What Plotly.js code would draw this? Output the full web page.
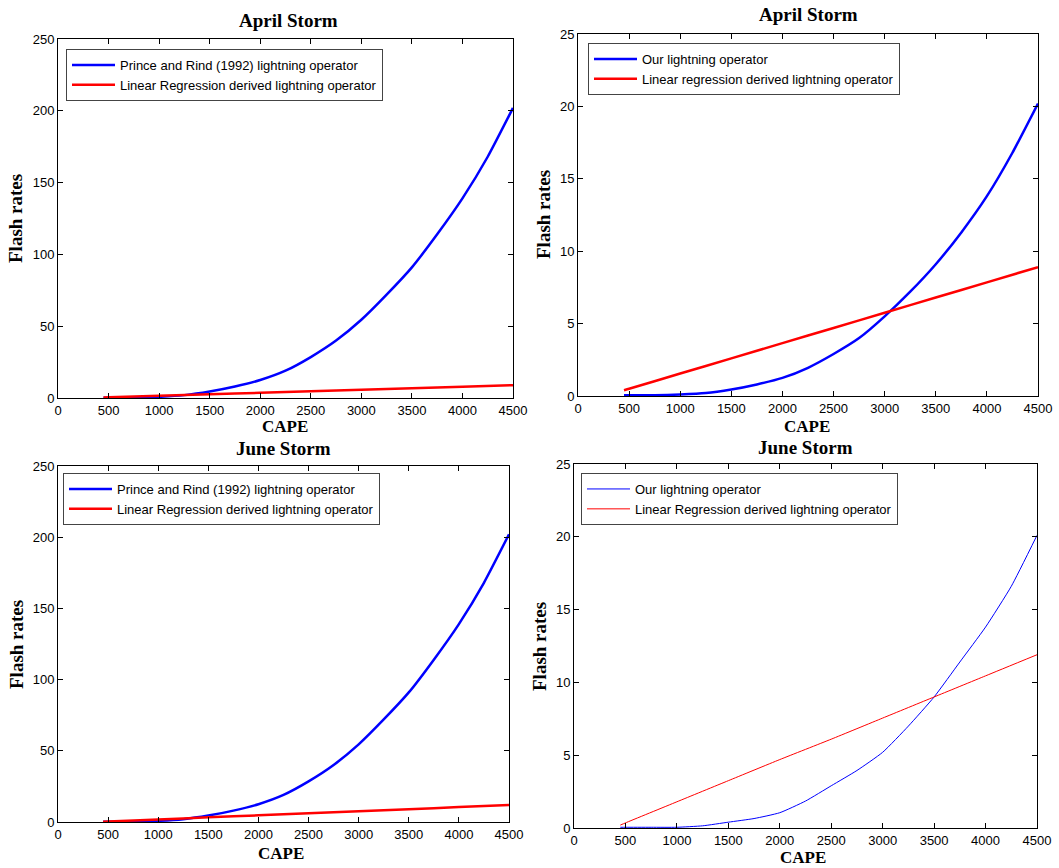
<!DOCTYPE html>
<html>
<head>
<meta charset="utf-8">
<script src="https://cdn.plot.ly/plotly-3.0.1.min.js"></script>
<style>html,body{margin:0;padding:0;background:#fff;}#chart{width:1059px;height:868px;}</style>
</head>
<body>
<div id="chart"></div>
<script>
// CAPE sample points
const cape = [450, 500, 750, 1000, 1250, 1500, 1750, 2000, 2250, 2500, 2750, 3000, 3250, 3500, 3750, 4000, 4250, 4500];
const capeLin = [450, 500, 1000, 1500, 2000, 2500, 3000, 3500, 4000, 4500];

// April storm
const aprilPrinceRind = [0.1, 0.1, 0.3, 0.8, 2, 4.5, 8, 12.5, 19, 28.5, 40, 54.5, 72, 91, 114, 139, 168, 202];
const aprilOurs = [0.05, 0.05, 0.05, 0.1, 0.2, 0.45, 0.8, 1.25, 1.95, 2.9, 4.0, 5.5, 7.2, 9.1, 11.3, 13.8, 16.8, 20.2];
const aprilLinReg = [0.4, 0.5, 1.55, 2.6, 3.65, 4.7, 5.75, 6.8, 7.85, 8.9];

// June storm
const junePrinceRind = [0.1, 0.1, 0.3, 0.8, 2, 4.5, 8, 12.5, 19, 28.5, 40, 54.5, 72, 91, 114, 139, 168, 202];
const juneOurs = [0.05, 0.05, 0.05, 0.05, 0.15, 0.4, 0.65, 1.05, 1.85, 2.9, 3.95, 5.2, 7.0, 9.0, 11.4, 13.8, 16.6, 20.1];
const juneLinReg = [0.2, 0.35, 1.8, 3.25, 4.7, 6.1, 7.55, 9.0, 10.45, 11.9];

const nameOurs = "Our lightning operator";
const namePR = "Prince and Rind (1992) lightning operator";
const nameLRcap = "Linear Regression derived lightning operator";
const nameLRlow = "Linear regression derived lightning operator";
const titles = ["April Storm", "April Storm", "June Storm", "June Storm"];
const xLabel = "CAPE";
const yLabel = "Flash rates";

const W = 1059, H = 868;
const BLUE = "#0000ff", RED = "#ff0000";

const traces = [
  {x: cape, y: aprilPrinceRind, name: namePR, xaxis: "x", yaxis: "y", legend: "legend", line: {color: BLUE, width: 2.5}},
  {x: capeLin, y: aprilLinReg, name: nameLRcap, xaxis: "x", yaxis: "y", legend: "legend", line: {color: RED, width: 2.5}},
  {x: cape, y: aprilOurs, name: nameOurs, xaxis: "x2", yaxis: "y2", legend: "legend2", line: {color: BLUE, width: 2.5}},
  {x: capeLin, y: aprilLinReg, name: nameLRlow, xaxis: "x2", yaxis: "y2", legend: "legend2", line: {color: RED, width: 2.5}},
  {x: cape, y: junePrinceRind, name: namePR, xaxis: "x3", yaxis: "y3", legend: "legend3", line: {color: BLUE, width: 2.5}},
  {x: capeLin, y: juneLinReg, name: nameLRcap, xaxis: "x3", yaxis: "y3", legend: "legend3", line: {color: RED, width: 2.5}},
  {x: cape, y: juneOurs, name: nameOurs, xaxis: "x4", yaxis: "y4", legend: "legend4", line: {color: BLUE, width: 1}},
  {x: capeLin, y: juneLinReg, name: nameLRcap, xaxis: "x4", yaxis: "y4", legend: "legend4", line: {color: RED, width: 1}}
].map(t => {
  t.line.shape = "spline"; t.line.smoothing = 0.5;
  return Object.assign({type: "scatter", mode: "lines", showlegend: true}, t);
});

const tickFont = {family: "Liberation Sans, Arial, sans-serif", size: 13, color: "#000"};
function xax(d, anchor) {
  return {domain: d, anchor: anchor, range: [0, 4500], dtick: 500, tick0: 0, ticks: "inside", ticklen: 5,
    showline: true, linecolor: "#000", linewidth: 1, mirror: "ticks", showgrid: false, zeroline: false,
    tickfont: tickFont, tickcolor: "#000"};
}
function yax(d, anchor, max, dt) {
  return {domain: d, anchor: anchor, range: [0, max], dtick: dt, tick0: 0, ticks: "inside", ticklen: 5,
    showline: true, linecolor: "#000", linewidth: 1, mirror: "ticks", showgrid: false, zeroline: false,
    tickfont: tickFont, tickcolor: "#000"};
}
const px = v => v / W, py = v => 1 - v / H;

const legendBase = {bgcolor: "#fff", bordercolor: "#444", borderwidth: 1, xanchor: "left", yanchor: "top",
  itemwidth: 43, font: {family: "Liberation Sans, Arial, sans-serif", size: 13, color: "#000"}, tracegroupgap: 0};

const titleFont = {family: "Liberation Serif, Times New Roman, serif", size: 19, color: "#000", weight: "bold"};
const xlabFont = {family: "Liberation Serif, Times New Roman, serif", size: 17, color: "#000", weight: "bold"};
const ylabFont = {family: "Liberation Serif, Times New Roman, serif", size: 19, color: "#000", weight: "bold"};
function ann(text, x, y, font, angle) {
  return {text: "<b>" + text + "</b>", x: px(x), y: py(y), xref: "paper", yref: "paper", xanchor: "center", yanchor: "middle",
    showarrow: false, font: font, textangle: angle || 0};
}

const layout = {
  width: W, height: H, margin: {l: 0, r: 0, t: 0, b: 0}, paper_bgcolor: "#fff", plot_bgcolor: "#fff",
  xaxis: xax([px(58), px(513)], "y"), yaxis: yax([py(398), py(39)], "x", 250, 50),
  xaxis2: xax([px(578), px(1038)], "y2"), yaxis2: yax([py(396), py(34)], "x2", 25, 5),
  xaxis3: xax([px(58), px(509)], "y3"), yaxis3: yax([py(822), py(466)], "x3", 250, 50),
  xaxis4: xax([px(574), px(1037)], "y4"), yaxis4: yax([py(828), py(464)], "x4", 25, 5),
  legend: Object.assign({x: px(66), y: py(49)}, legendBase),
  legend2: Object.assign({x: px(588), y: py(43)}, legendBase),
  legend3: Object.assign({x: px(63), y: py(473)}, legendBase),
  legend4: Object.assign({x: px(581), y: py(473)}, legendBase),
  annotations: [
    ann(titles[0], 288, 20, titleFont), ann(titles[1], 808, 15, titleFont),
    ann(titles[2], 283, 448, titleFont), ann(titles[3], 805, 447, titleFont),
    ann(xLabel, 285, 426, xlabFont), ann(xLabel, 807, 426, xlabFont),
    ann(xLabel, 281, 853, xlabFont), ann(xLabel, 803, 857, xlabFont),
    ann(yLabel, 16, 219, ylabFont, -90), ann(yLabel, 543, 215, ylabFont, -90),
    ann(yLabel, 16, 645, ylabFont, -90), ann(yLabel, 539, 647, ylabFont, -90)
  ],
  showlegend: true
};

Plotly.newPlot("chart", traces, layout, {staticPlot: true, displayModeBar: false});
</script>
</body>
</html>
